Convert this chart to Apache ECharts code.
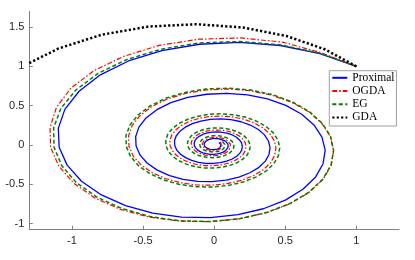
<!DOCTYPE html>
<html><head><meta charset="utf-8">
<script src="https://cdn.jsdelivr.net/npm/echarts@6/dist/echarts.min.js"></script>
<style>html,body{margin:0;padding:0;background:#fff}#c{width:415px;height:260px}</style>
</head><body><div id="c"></div>
<script>
const seriesNames = ['Proximal', 'OGDA', 'EG', 'GDA'];
const xTicks = [-1, -0.5, 0, 0.5, 1];
const yTicks = [-1, -0.5, 0, 0.5, 1, 1.5];

const proximal = [
[1.000,1.000],[0.744,1.164],[0.466,1.266],[0.178,1.305],[-0.104,1.282],[-0.368,1.201],[-0.603,1.069],[-0.800,0.893],[-0.950,0.684],[-1.050,0.453],[-1.096,0.212],[-1.090,-0.028],[-1.034,-0.256],[-0.933,-0.461],[-0.793,-0.635],[-0.623,-0.772],[-0.432,-0.867],[-0.230,-0.918],[-0.027,-0.924],[0.168,-0.887],[0.346,-0.811],[0.501,-0.701],[0.624,-0.563],[0.714,-0.406],[0.766,-0.238],[0.781,-0.066],[0.758,0.101],[0.702,0.256],[0.616,0.391],
[0.504,0.504],[0.375,0.587],[0.235,0.638],[0.090,0.658],[-0.052,0.646],[-0.186,0.606],[-0.304,0.539],[-0.403,0.450],[-0.479,0.345],[-0.529,0.228],[-0.552,0.107],[-0.549,-0.014],[-0.521,-0.129],[-0.470,-0.232],[-0.400,-0.320],[-0.314,-0.389],[-0.218,-0.437],[-0.116,-0.463],[-0.014,-0.466],[0.085,-0.447],[0.174,-0.409],[0.252,-0.353],[0.315,-0.284],[0.360,-0.205],[0.386,-0.120],[0.393,-0.033],[0.382,0.051],[0.354,0.129],[0.311,0.197],
[0.254,0.254],[0.189,0.296],[0.118,0.322],[0.045,0.332],[-0.026,0.326],[-0.094,0.305],[-0.153,0.272],[-0.203,0.227],[-0.241,0.174],[-0.267,0.115],[-0.279,0.054],[-0.277,-0.007],[-0.263,-0.065],[-0.237,-0.117],[-0.201,-0.161],[-0.158,-0.196],[-0.110,-0.220],[-0.058,-0.233],[-0.007,-0.235],[0.043,-0.225],[0.088,-0.206],[0.127,-0.178],[0.159,-0.143],[0.181,-0.103],[0.195,-0.060],[0.198,-0.017],[0.193,0.026],[0.178,0.065],[0.157,0.099],
[0.128,0.128],[0.095,0.149],[0.060,0.162],[0.023,0.167],[-0.013,0.164],[-0.047,0.154],[-0.077,0.137],[-0.102,0.114],[-0.122,0.088],[-0.134,0.058],[-0.140,0.027],[-0.140,-0.004],[-0.132,-0.033],[-0.119,-0.059],[-0.102,-0.081],[-0.080,-0.099],[-0.055,-0.111],[-0.030,-0.118],[-0.003,-0.118],[0.022,-0.114],[0.044,-0.104],[0.064,-0.090],[0.080,-0.072],[0.091,-0.052],[0.098,-0.030],[0.100,-0.008],[0.097,0.013],[0.090,0.033],[0.079,0.050],
[0.065,0.065],[0.030,0.082],[-0.007,0.083],[-0.039,0.069],[-0.061,0.044],[-0.071,0.014],[-0.067,-0.017],[-0.051,-0.041],[-0.028,-0.056],[-0.002,-0.060],[0.022,-0.052],[0.040,-0.036],[0.049,-0.015],[0.049,0.007],[0.040,0.025],[0.033,0.033]
];

const ogda = [
[1.000,1.000],[0.751,1.175],[0.481,1.309],[0.186,1.362],[-0.109,1.346],[-0.388,1.267],[-0.636,1.128],[-0.846,0.945],[-1.007,0.724],[-1.109,0.479],[-1.154,0.223],[-1.150,-0.030],[-1.092,-0.270],[-0.986,-0.487],[-0.840,-0.673],[-0.660,-0.819],[-0.457,-0.917],[-0.243,-0.968],[-0.028,-0.975],[0.178,-0.938],[0.368,-0.862],[0.534,-0.747],[0.668,-0.603],[0.767,-0.436],[0.824,-0.256],[0.840,-0.071],[0.817,0.109],[0.757,0.276],[0.665,0.422],
[0.545,0.545],[0.405,0.634],[0.254,0.691],[0.097,0.713],[-0.057,0.701],[-0.201,0.657],[-0.330,0.585],[-0.438,0.489],[-0.521,0.375],[-0.576,0.249],[-0.602,0.116],[-0.599,-0.015],[-0.569,-0.141],[-0.514,-0.254],[-0.437,-0.350],[-0.344,-0.426],[-0.239,-0.479],[-0.127,-0.508],[-0.015,-0.511],[0.093,-0.491],[0.192,-0.449],[0.278,-0.389],[0.347,-0.313],[0.397,-0.226],[0.426,-0.132],[0.435,-0.037],[0.423,0.056],[0.392,0.143],[0.344,0.218],
[0.282,0.282],[0.209,0.328],[0.131,0.357],[0.050,0.369],[-0.029,0.363],[-0.104,0.340],[-0.171,0.303],[-0.227,0.253],[-0.269,0.194],[-0.298,0.129],[-0.311,0.060],[-0.310,-0.008],[-0.294,-0.073],[-0.266,-0.131],[-0.226,-0.181],[-0.178,-0.220],[-0.124,-0.248],[-0.066,-0.263],[-0.008,-0.264],[0.048,-0.254],[0.099,-0.232],[0.144,-0.201],[0.179,-0.162],[0.205,-0.117],[0.220,-0.068],[0.225,-0.019],[0.219,0.029],[0.203,0.074],[0.178,0.113],
[0.146,0.146],[0.108,0.170],[0.068,0.185],[0.026,0.191],[-0.015,0.188],[-0.054,0.176],[-0.088,0.157],[-0.117,0.131],[-0.139,0.100],[-0.154,0.067],[-0.161,0.031],[-0.160,-0.004],[-0.152,-0.038],[-0.138,-0.068],[-0.117,-0.094],[-0.092,-0.114],[-0.064,-0.128],[-0.034,-0.136],[-0.004,-0.137],[0.025,-0.131],[0.051,-0.120],[0.074,-0.104],[0.093,-0.084],[0.106,-0.061],[0.114,-0.035],[0.116,-0.010],[0.113,0.015],[0.105,0.038],[0.092,0.058],
[0.076,0.076],[0.035,0.096],[-0.008,0.097],[-0.046,0.081],[-0.072,0.052],[-0.083,0.016],[-0.079,-0.020],[-0.061,-0.049],[-0.033,-0.066],[-0.002,-0.071],[0.026,-0.062],[0.048,-0.043],[0.059,-0.018],[0.058,0.008],[0.048,0.030],[0.039,0.039]
];

const eg = [
[1.000,1.000],[0.746,1.167],[0.468,1.274],[0.180,1.317],[-0.105,1.298],[-0.374,1.219],[-0.614,1.088],[-0.816,0.911],[-0.973,0.700],[-1.078,0.465],[-1.129,0.218],[-1.126,-0.029],[-1.071,-0.265],[-0.969,-0.479],[-0.826,-0.662],[-0.651,-0.807],[-0.453,-0.909],[-0.242,-0.965],[-0.028,-0.974],[0.178,-0.938],[0.367,-0.860],[0.533,-0.745],[0.666,-0.601],[0.764,-0.435],[0.822,-0.255],[0.840,-0.071],[0.819,0.109],[0.760,0.277],[0.669,0.425],
[0.549,0.549],[0.410,0.641],[0.257,0.699],[0.099,0.723],[-0.058,0.713],[-0.205,0.669],[-0.337,0.597],[-0.448,0.500],[-0.534,0.384],[-0.592,0.255],[-0.620,0.120],[-0.618,-0.016],[-0.588,-0.145],[-0.532,-0.263],[-0.453,-0.363],[-0.357,-0.443],[-0.249,-0.499],[-0.133,-0.530],[-0.015,-0.535],[0.098,-0.515],[0.201,-0.472],[0.293,-0.409],[0.366,-0.330],[0.419,-0.239],[0.451,-0.140],[0.461,-0.039],[0.450,0.060],[0.417,0.152],[0.367,0.233],
[0.301,0.301],[0.225,0.352],[0.141,0.384],[0.054,0.397],[-0.032,0.391],[-0.113,0.367],[-0.185,0.328],[-0.246,0.275],[-0.293,0.211],[-0.325,0.140],[-0.340,0.066],[-0.339,-0.009],[-0.323,-0.080],[-0.292,-0.144],[-0.249,-0.199],[-0.196,-0.243],[-0.137,-0.274],[-0.073,-0.291],[-0.008,-0.294],[0.054,-0.283],[0.111,-0.259],[0.161,-0.225],[0.201,-0.181],[0.230,-0.131],[0.248,-0.077],[0.253,-0.021],[0.247,0.033],[0.229,0.084],[0.202,0.128],
[0.166,0.166],[0.123,0.193],[0.077,0.211],[0.030,0.218],[-0.017,0.215],[-0.062,0.202],[-0.102,0.180],[-0.135,0.151],[-0.161,0.116],[-0.178,0.077],[-0.187,0.036],[-0.186,-0.005],[-0.177,-0.044],[-0.160,-0.079],[-0.137,-0.109],[-0.108,-0.134],[-0.075,-0.150],[-0.040,-0.160],[-0.005,-0.161],[0.029,-0.155],[0.061,-0.142],[0.088,-0.123],[0.110,-0.099],[0.126,-0.072],[0.136,-0.042],[0.139,-0.012],[0.136,0.018],[0.126,0.046],[0.111,0.070],
[0.091,0.091],[0.043,0.116],[-0.010,0.118],[-0.056,0.099],[-0.088,0.064],[-0.103,0.020],[-0.097,-0.024],[-0.075,-0.060],[-0.041,-0.083],[-0.003,-0.088],[0.033,-0.078],[0.061,-0.055],[0.075,-0.023],[0.074,0.010],[0.061,0.039],[0.050,0.050]
];

const gda = [
[1.000,1.000],[0.778,1.218],[0.510,1.386],[0.204,1.495],[-0.124,1.537],[-0.462,1.507],[-0.792,1.403],[-1.098,1.226],[-1.365,0.982]
];

const chart = echarts.init(document.getElementById('c'), null, {renderer: 'canvas'});
const axisCommon = {
  type: 'value',
  axisLine: {show: true, onZero: false, lineStyle: {color: '#808080', width: 1}},
  axisTick: {show: true, inside: true, length: 3.5, lineStyle: {color: '#808080'}},
  splitLine: {show: false},
  axisLabel: {color: '#262626', fontFamily: 'Liberation Sans, Arial, sans-serif', fontSize: 11}
};
chart.setOption({
  animation: false,
  backgroundColor: '#ffffff',
  grid: {left: 29.3, right: 16, top: 11.4, bottom: 30.7, containLabel: false},
  xAxis: Object.assign({}, axisCommon, {
    min: -1.3, max: 1.3,
    axisTick: Object.assign({}, axisCommon.axisTick, {customValues: xTicks}),
    axisLabel: Object.assign({}, axisCommon.axisLabel, {customValues: xTicks, margin: 6})
  }),
  yAxis: Object.assign({}, axisCommon, {
    min: -1.0725, max: 1.7,
    axisTick: Object.assign({}, axisCommon.axisTick, {customValues: yTicks}),
    axisLabel: Object.assign({}, axisCommon.axisLabel, {customValues: yTicks, margin: 5})
  }),
  legend: {
    show: true,
    left: 329.3, top: 70.7,
    orient: 'vertical',
    data: seriesNames,
    itemWidth: 15, itemHeight: 10, itemGap: 0, itemTextGap: 2,
    padding: [0.5, 2, 2, 2],
    borderColor: '#a0a0a0', borderWidth: 1, borderRadius: 0,
    backgroundColor: '#ffffff',
    itemStyle: {color: 'rgba(0,0,0,0)', borderColor: 'rgba(0,0,0,0)', borderWidth: 0, opacity: 0},
    textStyle: {fontFamily: 'Liberation Serif, Times New Roman, serif', fontSize: 11.5, lineHeight: 13.2, color: '#000'}
  },
  series: [
    {name: seriesNames[0], type: 'line', data: proximal, symbol: 'none', smooth: false,
     lineStyle: {color: '#0000ff', width: 1.3, type: 'solid'}, itemStyle: {color: '#0000ff'}},
    {name: seriesNames[1], type: 'line', data: ogda, symbol: 'none', smooth: false,
     lineStyle: {color: '#ff0000', width: 1.2, type: [5, 2, 1.5, 2]}, itemStyle: {color: '#ff0000'}},
    {name: seriesNames[2], type: 'line', data: eg, symbol: 'none', smooth: false,
     lineStyle: {color: '#008000', width: 1.5, type: [4, 2.5]}, itemStyle: {color: '#008000'}},
    {name: seriesNames[3], type: 'line', data: gda, symbol: 'none', smooth: false,
     lineStyle: {color: '#000000', width: 2.5, type: [2.2, 2.2], cap: 'butt'}, itemStyle: {color: '#000000'}}
  ]
});
</script></body></html>
